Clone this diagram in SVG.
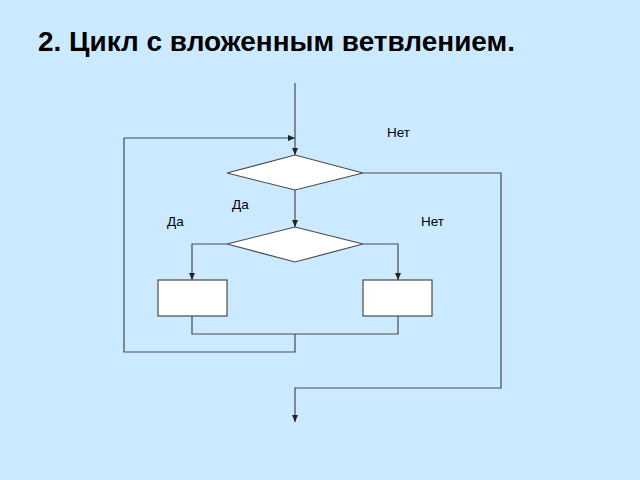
<svg xmlns="http://www.w3.org/2000/svg" width="640" height="480" viewBox="0 0 640 480">
<defs>
<style>
.bg{fill:#cceaff}
.ln{fill:none;stroke:#4a4a4a;stroke-width:1.2}
.sh{fill:#ffffff;stroke:#4a4a4a;stroke-width:1.2}
.lbl{font-family:"Liberation Sans",Arial,sans-serif;font-size:13.5px;fill:#000}
.title{font-family:"Liberation Sans",Arial,sans-serif;font-size:27px;font-weight:bold;fill:#000}
</style>
<marker id="ah" markerWidth="8" markerHeight="8" refX="7" refY="4" orient="auto" markerUnits="userSpaceOnUse">
<path d="M0,1 L7,4 L0,7 Z" fill="#222"/>
</marker>
</defs>
<rect class="bg" x="0" y="0" width="640" height="480"/>
<text class="title" x="38" y="51" textLength="477" lengthAdjust="spacingAndGlyphs">2. Цикл с вложенным ветвлением.</text>
<g id="connectors">
<path class="ln" d="M295,83 V155" marker-end="url(#ah)"/>
<path class="ln" d="M124,138 H295" marker-end="url(#ah)"/>
<path class="ln" d="M295,190 V227" marker-end="url(#ah)"/>
<path class="ln" d="M227,244 H192 V280" marker-end="url(#ah)"/>
<path class="ln" d="M363,244 H398 V280" marker-end="url(#ah)"/>
<path class="ln" d="M192,316 V334 H398 V316"/>
<path class="ln" d="M295,334 V352 H124 V138"/>
<path class="ln" d="M363,173 H501 V388 H295 V422" marker-end="url(#ah)"/>
</g>
<g id="cond1"><polygon class="sh" points="227,173 295,155 363,173 295,190"/></g>
<g id="cond2"><polygon class="sh" points="227,244 295,227 363,244 295,262"/></g>
<g id="box1"><rect class="sh" x="158" y="280" width="69" height="36"/></g>
<g id="box2"><rect class="sh" x="363" y="280" width="69" height="36"/></g>
<g id="labels">
<text class="lbl" x="387" y="137">Нет</text>
<text class="lbl" x="232" y="209">Да</text>
<text class="lbl" x="167" y="226">Да</text>
<text class="lbl" x="421" y="226">Нет</text>
</g>
</svg>
